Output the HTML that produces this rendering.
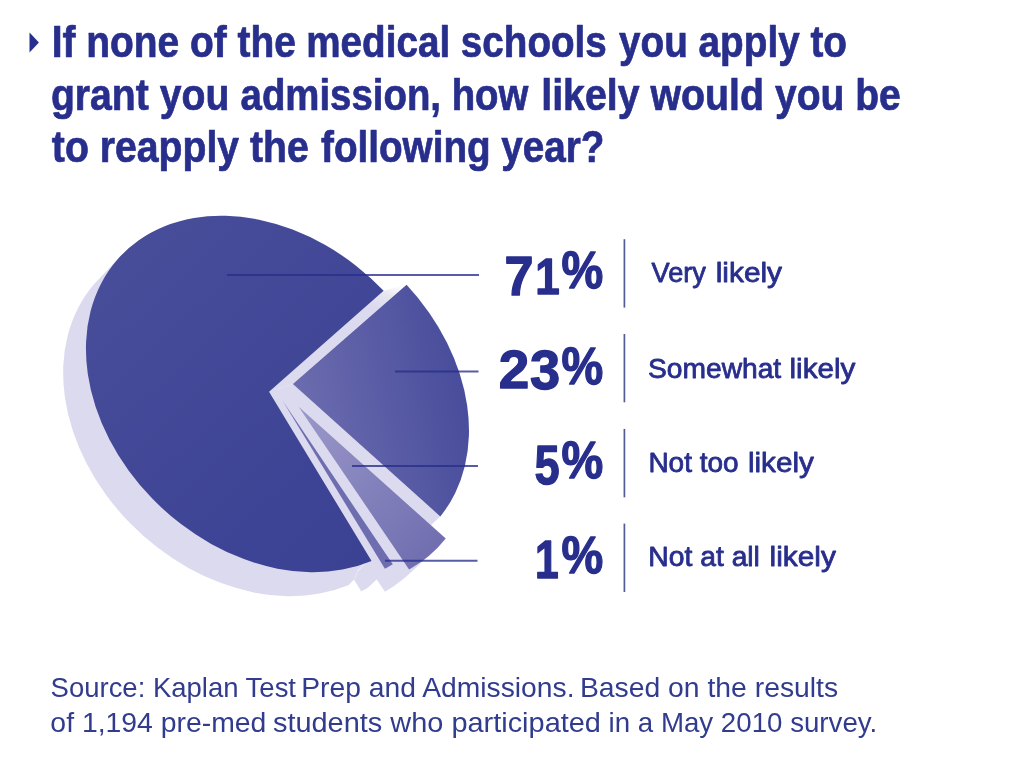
<!DOCTYPE html>
<html lang="en">
<head>
<meta charset="utf-8">
<title>Medical school reapplication survey</title>
<style>
html,body{margin:0;padding:0;background:#fff;}
body{width:1024px;height:761px;overflow:hidden;}
svg{display:block;}
text{font-family:"Liberation Sans",sans-serif;fill:#272e8c;}
.t{font-weight:bold;font-size:43.5px;stroke:#272e8c;stroke-width:.7px;stroke-linejoin:round;}
.n{font-weight:bold;font-size:50px;stroke:#272e8c;stroke-width:1.3px;stroke-linejoin:round;}
.l{font-size:28px;stroke:#272e8c;stroke-width:.8px;stroke-linejoin:round;}
.s{font-size:27.5px;fill:#323c8e;}
</style>
</head>
<body>
<svg width="1024" height="761" viewBox="0 0 1024 761">
<defs>
<linearGradient id="gm" gradientUnits="userSpaceOnUse" x1="120" y1="260" x2="400" y2="560">
<stop offset="0" stop-color="#474d99"/><stop offset="1" stop-color="#3a4093"/>
</linearGradient>
<linearGradient id="g23" gradientUnits="userSpaceOnUse" x1="293" y1="384" x2="466" y2="348">
<stop offset="0" stop-color="#6c6caf"/><stop offset="1" stop-color="#464b9a"/>
</linearGradient>
<linearGradient id="g5" gradientUnits="userSpaceOnUse" x1="300" y1="407" x2="440" y2="540">
<stop offset="0" stop-color="#9a98c9"/><stop offset="1" stop-color="#716fb0"/>
</linearGradient>
<linearGradient id="gg" gradientUnits="userSpaceOnUse" x1="398" y1="284" x2="386" y2="312">
<stop offset="0" stop-color="#ffffff"/><stop offset=".5" stop-color="#e6e5f0"/><stop offset="1" stop-color="#dcdaee"/>
</linearGradient>
</defs>
<rect width="1024" height="761" fill="#fff"/>

<!-- pie shadow / extrusion -->
<path fill="#dcdaee" d="M268.35 392.60L382.91 291.43A201.34 155.29 43.05 1 0 370.85 561.73ZM267.63 393.35L382.19 292.18A201.34 155.29 43.05 1 0 370.13 562.48ZM266.92 394.10L381.48 292.93A201.34 155.29 43.05 1 0 369.42 563.23ZM266.21 394.85L380.77 293.68A201.34 155.29 43.05 1 0 368.71 563.98ZM265.50 395.60L380.06 294.43A201.34 155.29 43.05 1 0 368.00 564.73ZM264.79 396.35L379.35 295.18A201.34 155.29 43.05 1 0 367.29 565.48ZM264.07 397.10L378.63 295.93A201.34 155.29 43.05 1 0 366.57 566.23ZM263.36 397.85L377.92 296.68A201.34 155.29 43.05 1 0 365.86 566.98ZM262.65 398.60L377.21 297.43A201.34 155.29 43.05 1 0 365.15 567.73ZM261.94 399.35L376.50 298.18A201.34 155.29 43.05 1 0 364.44 568.48ZM261.22 400.10L375.78 298.93A201.34 155.29 43.05 1 0 363.72 569.23ZM260.51 400.85L375.07 299.68A201.34 155.29 43.05 1 0 363.01 569.98ZM259.80 401.60L374.36 300.43A201.34 155.29 43.05 1 0 362.30 570.73ZM259.08 402.35L373.64 301.18A201.34 155.29 43.05 1 0 361.58 571.48ZM258.37 403.10L372.93 301.93A201.34 155.29 43.05 1 0 360.87 572.23ZM257.66 403.85L372.22 302.68A201.34 155.29 43.05 1 0 360.16 572.98ZM256.95 404.60L371.51 303.43A201.34 155.29 43.05 1 0 359.45 573.73ZM256.24 405.35L370.80 304.18A201.34 155.29 43.05 1 0 358.74 574.48ZM255.52 406.10L370.08 304.93A201.34 155.29 43.05 1 0 358.02 575.23ZM254.81 406.85L369.37 305.68A201.34 155.29 43.05 1 0 357.31 575.98ZM254.10 407.60L368.66 306.43A201.34 155.29 43.05 1 0 356.60 576.73ZM253.38 408.35L367.94 307.18A201.34 155.29 43.05 1 0 355.88 577.48ZM252.67 409.10L367.23 307.93A201.34 155.29 43.05 1 0 355.17 578.23ZM251.96 409.85L366.52 308.68A201.34 155.29 43.05 1 0 354.46 578.98ZM251.25 410.60L365.81 309.43A201.34 155.29 43.05 1 0 353.75 579.73ZM250.53 411.35L365.10 310.18A201.34 155.29 43.05 1 0 353.04 580.48ZM249.82 412.10L364.38 310.93A201.34 155.29 43.05 1 0 352.32 581.23ZM249.11 412.85L363.67 311.68A201.34 155.29 43.05 1 0 351.61 581.98ZM248.40 413.60L362.96 312.43A201.34 155.29 43.05 1 0 350.90 582.73ZM247.69 414.35L362.25 313.18A201.34 155.29 43.05 1 0 350.19 583.48ZM246.97 415.10L361.53 313.93A201.34 155.29 43.05 1 0 349.47 584.23ZM246.26 415.85L360.82 314.68A201.34 155.29 43.05 1 0 348.76 584.98ZM292.15 384.62L405.85 285.52A201.34 155.29 43.05 0 1 439.55 517.12ZM291.40 385.34L405.10 286.24A201.34 155.29 43.05 0 1 438.80 517.84ZM290.65 386.06L404.35 286.96A201.34 155.29 43.05 0 1 438.05 518.56ZM289.90 386.77L403.60 287.68A201.34 155.29 43.05 0 1 437.30 519.27ZM289.15 387.49L402.85 288.39A201.34 155.29 43.05 0 1 436.55 519.99ZM288.40 388.21L402.10 289.11A201.34 155.29 43.05 0 1 435.80 520.71ZM287.65 388.93L401.35 289.83A201.34 155.29 43.05 0 1 435.05 521.43ZM286.90 389.65L400.60 290.55A201.34 155.29 43.05 0 1 434.30 522.15ZM286.15 390.37L399.85 291.27A201.34 155.29 43.05 0 1 433.55 522.87ZM285.40 391.09L399.10 291.99A201.34 155.29 43.05 0 1 432.80 523.59ZM284.65 391.81L398.35 292.71A201.34 155.29 43.05 0 1 432.05 524.31ZM283.90 392.52L397.60 293.43A201.34 155.29 43.05 0 1 431.30 525.02ZM283.15 393.24L396.85 294.14A201.34 155.29 43.05 0 1 430.55 525.74ZM282.40 393.96L396.10 294.86A201.34 155.29 43.05 0 1 429.80 526.46ZM281.65 394.68L395.35 295.58A201.34 155.29 43.05 0 1 429.05 527.18ZM280.90 395.40L394.60 296.30A201.34 155.29 43.05 0 1 428.30 527.90ZM280.15 396.12L393.85 297.02A201.34 155.29 43.05 0 1 427.55 528.62ZM279.40 396.84L393.10 297.74A201.34 155.29 43.05 0 1 426.80 529.34ZM278.65 397.56L392.35 298.46A201.34 155.29 43.05 0 1 426.05 530.06ZM277.90 398.27L391.60 299.18A201.34 155.29 43.05 0 1 425.30 530.77ZM277.15 398.99L390.85 299.89A201.34 155.29 43.05 0 1 424.55 531.49ZM276.40 399.71L390.10 300.61A201.34 155.29 43.05 0 1 423.80 532.21ZM275.65 400.43L389.35 301.33A201.34 155.29 43.05 0 1 423.05 532.93ZM274.90 401.15L388.60 302.05A201.34 155.29 43.05 0 1 422.30 533.65ZM274.15 401.87L387.85 302.77A201.34 155.29 43.05 0 1 421.55 534.37ZM273.40 402.59L387.10 303.49A201.34 155.29 43.05 0 1 420.80 535.09ZM272.65 403.31L386.35 304.21A201.34 155.29 43.05 0 1 420.05 535.81ZM271.90 404.02L385.60 304.93A201.34 155.29 43.05 0 1 419.30 536.52ZM271.15 404.74L384.85 305.64A201.34 155.29 43.05 0 1 418.55 537.24ZM270.40 405.46L384.10 306.36A201.34 155.29 43.05 0 1 417.80 537.96ZM269.65 406.18L383.35 307.08A201.34 155.29 43.05 0 1 417.05 538.68ZM268.90 406.90L382.60 307.80A201.34 155.29 43.05 0 1 416.30 539.40ZM297.82 407.51L444.92 539.21A201.34 155.29 43.05 0 1 408.32 570.11ZM297.04 408.23L444.14 539.92A201.34 155.29 43.05 0 1 407.54 570.82ZM296.26 408.94L443.36 540.64A201.34 155.29 43.05 0 1 406.76 571.54ZM295.48 409.65L442.57 541.35A201.34 155.29 43.05 0 1 405.98 572.25ZM294.69 410.36L441.79 542.06A201.34 155.29 43.05 0 1 405.19 572.96ZM293.91 411.07L441.01 542.77A201.34 155.29 43.05 0 1 404.41 573.67ZM293.13 411.79L440.23 543.49A201.34 155.29 43.05 0 1 403.63 574.39ZM292.35 412.50L439.45 544.20A201.34 155.29 43.05 0 1 402.85 575.10ZM291.57 413.21L438.67 544.91A201.34 155.29 43.05 0 1 402.07 575.81ZM290.79 413.93L437.89 545.62A201.34 155.29 43.05 0 1 401.29 576.52ZM290.01 414.64L437.11 546.34A201.34 155.29 43.05 0 1 400.51 577.24ZM289.23 415.35L436.32 547.05A201.34 155.29 43.05 0 1 399.73 577.95ZM288.44 416.06L435.54 547.76A201.34 155.29 43.05 0 1 398.94 578.66ZM287.66 416.78L434.76 548.48A201.34 155.29 43.05 0 1 398.16 579.38ZM286.88 417.49L433.98 549.19A201.34 155.29 43.05 0 1 397.38 580.09ZM286.10 418.20L433.20 549.90A201.34 155.29 43.05 0 1 396.60 580.80ZM285.32 418.91L432.42 550.61A201.34 155.29 43.05 0 1 395.82 581.51ZM284.54 419.62L431.64 551.33A201.34 155.29 43.05 0 1 395.04 582.23ZM283.76 420.34L430.86 552.04A201.34 155.29 43.05 0 1 394.26 582.94ZM282.98 421.05L430.07 552.75A201.34 155.29 43.05 0 1 393.48 583.65ZM282.19 421.76L429.29 553.46A201.34 155.29 43.05 0 1 392.69 584.36ZM281.41 422.48L428.51 554.17A201.34 155.29 43.05 0 1 391.91 585.07ZM280.63 423.19L427.73 554.89A201.34 155.29 43.05 0 1 391.13 585.79ZM279.85 423.90L426.95 555.60A201.34 155.29 43.05 0 1 390.35 586.50ZM279.07 424.61L426.17 556.31A201.34 155.29 43.05 0 1 389.57 587.21ZM278.29 425.32L425.39 557.02A201.34 155.29 43.05 0 1 388.79 587.92ZM277.51 426.04L424.61 557.74A201.34 155.29 43.05 0 1 388.01 588.64ZM276.73 426.75L423.82 558.45A201.34 155.29 43.05 0 1 387.23 589.35ZM275.94 427.46L423.04 559.16A201.34 155.29 43.05 0 1 386.44 590.06ZM275.16 428.18L422.26 559.88A201.34 155.29 43.05 0 1 385.66 590.77ZM274.38 428.89L421.48 560.59A201.34 155.29 43.05 0 1 384.88 591.49ZM273.60 429.60L420.70 561.30A201.34 155.29 43.05 0 1 384.10 592.20ZM282.03 401.82L392.03 565.02A201.34 155.29 43.05 0 1 384.13 569.42ZM281.26 402.54L391.26 565.74A201.34 155.29 43.05 0 1 383.36 570.14ZM280.48 403.27L390.48 566.47A201.34 155.29 43.05 0 1 382.58 570.87ZM279.71 403.99L389.71 567.19A201.34 155.29 43.05 0 1 381.81 571.59ZM278.94 404.71L388.94 567.91A201.34 155.29 43.05 0 1 381.04 572.31ZM278.17 405.43L388.17 568.63A201.34 155.29 43.05 0 1 380.27 573.03ZM277.40 406.15L387.40 569.35A201.34 155.29 43.05 0 1 379.50 573.75ZM276.62 406.88L386.62 570.07A201.34 155.29 43.05 0 1 378.72 574.48ZM275.85 407.60L385.85 570.80A201.34 155.29 43.05 0 1 377.95 575.20ZM275.08 408.32L385.08 571.52A201.34 155.29 43.05 0 1 377.18 575.92ZM274.31 409.04L384.31 572.24A201.34 155.29 43.05 0 1 376.41 576.64ZM273.54 409.76L383.54 572.96A201.34 155.29 43.05 0 1 375.64 577.36ZM272.77 410.48L382.77 573.68A201.34 155.29 43.05 0 1 374.87 578.08ZM271.99 411.21L381.99 574.41A201.34 155.29 43.05 0 1 374.09 578.81ZM271.22 411.93L381.22 575.13A201.34 155.29 43.05 0 1 373.32 579.53ZM270.45 412.65L380.45 575.85A201.34 155.29 43.05 0 1 372.55 580.25ZM269.68 413.37L379.68 576.57A201.34 155.29 43.05 0 1 371.78 580.97ZM268.91 414.09L378.91 577.29A201.34 155.29 43.05 0 1 371.01 581.69ZM268.13 414.82L378.13 578.02A201.34 155.29 43.05 0 1 370.23 582.42ZM267.36 415.54L377.36 578.74A201.34 155.29 43.05 0 1 369.46 583.14ZM266.59 416.26L376.59 579.46A201.34 155.29 43.05 0 1 368.69 583.86ZM265.82 416.98L375.82 580.18A201.34 155.29 43.05 0 1 367.92 584.58ZM265.05 417.70L375.05 580.90A201.34 155.29 43.05 0 1 367.15 585.30ZM264.28 418.43L374.28 581.62A201.34 155.29 43.05 0 1 366.38 586.03ZM263.50 419.15L373.50 582.35A201.34 155.29 43.05 0 1 365.60 586.75ZM262.73 419.87L372.73 583.07A201.34 155.29 43.05 0 1 364.83 587.47ZM261.96 420.59L371.96 583.79A201.34 155.29 43.05 0 1 364.06 588.19ZM261.19 421.31L371.19 584.51A201.34 155.29 43.05 0 1 363.29 588.91ZM260.42 422.03L370.42 585.23A201.34 155.29 43.05 0 1 362.52 589.63ZM259.64 422.76L369.64 585.96A201.34 155.29 43.05 0 1 361.74 590.36ZM258.87 423.48L368.87 586.68A201.34 155.29 43.05 0 1 360.97 591.08ZM258.10 424.20L368.10 587.40A201.34 155.29 43.05 0 1 360.20 591.80ZM269.06 391.85L383.62 290.68L360.82 314.68L246.26 415.85ZM371.56 560.98L269.06 391.85L246.26 415.85L348.76 584.98ZM292.90 383.90L406.60 284.80L382.60 307.80L268.90 406.90ZM440.30 516.40L292.90 383.90L268.90 406.90L416.30 539.40ZM298.60 406.80L445.70 538.50L420.70 561.30L273.60 429.60ZM409.10 569.40L298.60 406.80L273.60 429.60L384.10 592.20ZM282.80 401.10L392.80 564.30L368.10 587.40L258.10 424.20ZM384.90 568.70L282.80 401.10L258.10 424.20L360.20 591.80Z"/>
<path fill="#dcdaee" d="M269.06 391.85L292.90 383.90L440.30 516.40L430.80 523.30L409.10 569.40L384.90 568.70L371.56 560.98Z"/>
<path fill="url(#gg)" d="M269.06 391.85L383.62 290.68L406.60 284.80L292.90 383.90Z"/>
<!-- slices -->
<path fill="url(#gm)" d="M269.06 391.85L383.62 290.68A201.34 155.29 43.05 1 0 371.56 560.98Z"/>
<path fill="url(#g23)" d="M292.90 383.90L406.60 284.80A201.34 155.29 43.05 0 1 440.30 516.40Z"/>
<path fill="url(#g5)" d="M298.60 406.80L445.70 538.50A201.34 155.29 43.05 0 1 409.10 569.40Z"/>
<path fill="#6e6db0" d="M282.80 401.10L392.80 564.30A201.34 155.29 43.05 0 1 384.90 568.70Z"/>

<!-- leader lines -->
<g stroke="#272e8c" stroke-opacity=".78" stroke-width="1.9" fill="none">
<path d="M227 275H479"/>
<path d="M395 371.5H478.5"/>
<path d="M352 466H478"/>
<path d="M385 560.8H477.5"/>
</g>
<g stroke="#545a92" stroke-width="1.7" fill="none">
<path d="M624.4 239.2V307.6"/>
<path d="M624.4 334V402.3"/>
<path d="M624.4 428.9V497.3"/>
<path d="M624.4 523.6V592"/>
</g>

<path d="M29.5 32.6 L38.9 42.4 L29.5 52.5 Z" fill="#272e8c"/>
<text class="t"><tspan id="t1a" x="51.65" y="57" textLength="244.18" lengthAdjust="spacingAndGlyphs">If none of the</tspan>
<tspan id="t1b" x="306.28" y="57" textLength="300.58" lengthAdjust="spacingAndGlyphs">medical schools</tspan>
<tspan id="t1c" x="619.00" y="57" textLength="227.96" lengthAdjust="spacingAndGlyphs">you apply to</tspan>
<tspan id="t2a" x="50.91" y="109.5" textLength="178.46" lengthAdjust="spacingAndGlyphs">grant you</tspan>
<tspan id="t2b" x="240.59" y="109.5" textLength="287.76" lengthAdjust="spacingAndGlyphs">admission, how</tspan>
<tspan id="t2c" x="541.24" y="109.5" textLength="222.64" lengthAdjust="spacingAndGlyphs">likely would</tspan>
<tspan id="t2d" x="775.05" y="109.5" textLength="125.77" lengthAdjust="spacingAndGlyphs">you be</tspan>
<tspan id="t3a" x="51.84" y="162" textLength="256.90" lengthAdjust="spacingAndGlyphs">to reapply the</tspan>
<tspan id="t3b" x="321.06" y="162" textLength="283.39" lengthAdjust="spacingAndGlyphs">following year?</tspan></text>
<text class="n"><tspan id="n1a" style="font-size:55.5px" x="504.52" y="295.4" textLength="29.05" lengthAdjust="spacingAndGlyphs">7</tspan><tspan id="n1b" style="font-size:49.6px" x="535.28" y="293.5" textLength="24.49" lengthAdjust="spacingAndGlyphs">1</tspan><tspan id="p1" style="font-size:51.5px" x="561.62" y="288.2" textLength="41.73" lengthAdjust="spacingAndGlyphs">%</tspan></text>
<text class="l"><tspan id="l1a" x="651.58" y="281.6" textLength="54.27" lengthAdjust="spacingAndGlyphs">Very</tspan>
<tspan id="l1b" x="715.73" y="281.6" textLength="66.32" lengthAdjust="spacingAndGlyphs">likely</tspan></text>
<text class="n"><tspan id="n2a" style="font-size:54px" x="498.86" y="387.7" textLength="30.54" lengthAdjust="spacingAndGlyphs">2</tspan><tspan id="n2b" style="font-size:55px" x="530.01" y="389.4" textLength="30.16" lengthAdjust="spacingAndGlyphs">3</tspan><tspan id="p2" style="font-size:51.5px" x="561.62" y="383.9" textLength="41.73" lengthAdjust="spacingAndGlyphs">%</tspan></text>
<text class="l"><tspan id="l2a" x="647.99" y="377.6" textLength="133.21" lengthAdjust="spacingAndGlyphs">Somewhat</tspan>
<tspan id="l2b" x="789.50" y="377.6" textLength="65.91" lengthAdjust="spacingAndGlyphs">likely</tspan></text>
<text class="n"><tspan id="n3" style="font-size:56px" x="534.51" y="484.2" textLength="25.14" lengthAdjust="spacingAndGlyphs">5</tspan><tspan id="p3" style="font-size:51.5px" x="561.62" y="478.4" textLength="41.73" lengthAdjust="spacingAndGlyphs">%</tspan></text>
<text class="l"><tspan id="l3a" x="648.40" y="471.9" textLength="90.18" lengthAdjust="spacingAndGlyphs">Not too</tspan>
<tspan id="l3b" x="747.94" y="471.9" textLength="65.91" lengthAdjust="spacingAndGlyphs">likely</tspan></text>
<text class="n"><tspan id="n4" style="font-size:53.6px" x="535.05" y="578.0" textLength="23.74" lengthAdjust="spacingAndGlyphs">1</tspan><tspan id="p4" style="font-size:51.5px" x="561.62" y="573.1" textLength="41.73" lengthAdjust="spacingAndGlyphs">%</tspan></text>
<text class="l"><tspan id="l4a" x="648.38" y="566.4" textLength="111.53" lengthAdjust="spacingAndGlyphs">Not at all</tspan>
<tspan id="l4b" x="769.52" y="566.4" textLength="66.32" lengthAdjust="spacingAndGlyphs">likely</tspan></text>
<text class="s"><tspan id="s1a" x="50.60" y="696.9" textLength="245.42" lengthAdjust="spacingAndGlyphs">Source: Kaplan Test</tspan>
<tspan id="s1b" x="301.24" y="696.9" textLength="273.30" lengthAdjust="spacingAndGlyphs">Prep and Admissions.</tspan>
<tspan id="s1c" x="579.93" y="696.9" textLength="258.23" lengthAdjust="spacingAndGlyphs">Based on the results</tspan>
<tspan id="s2a" x="50.36" y="732" textLength="215.94" lengthAdjust="spacingAndGlyphs">of 1,194 pre-med</tspan>
<tspan id="s2b" x="272.93" y="732" textLength="328.01" lengthAdjust="spacingAndGlyphs">students who participated</tspan>
<tspan id="s2c" x="608.59" y="732" textLength="268.71" lengthAdjust="spacingAndGlyphs">in a May 2010 survey.</tspan></text>
</svg>
</body>
</html>
